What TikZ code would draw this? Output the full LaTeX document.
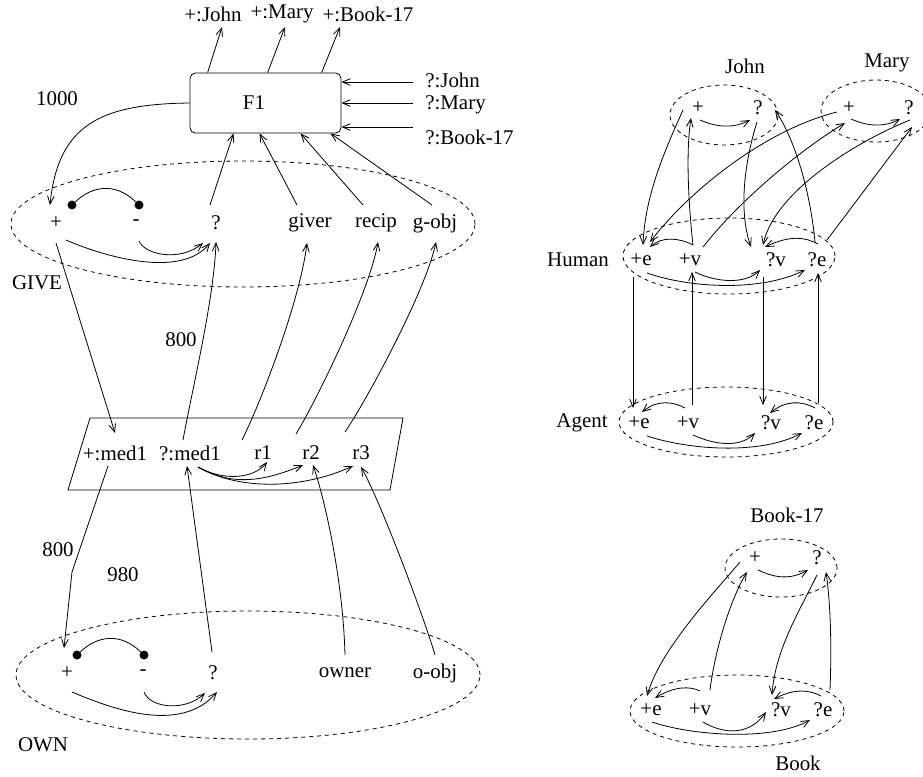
\documentclass[tikz,border=0pt]{standalone}
\usepackage{fontspec}
\setmainfont{Liberation Serif}
\usetikzlibrary{arrows.meta,shapes.geometric,calc}
\begin{document}
\begin{tikzpicture}[x=0.75pt,y=-0.75pt,
  every node/.style={font=\fontsize{15.7}{18}\selectfont, inner sep=0pt},
  arr/.style={-{Straight Barb[length=6pt,width=5pt]}, line width=0.6pt},
  ln/.style={line width=0.6pt},
  dashell/.style={ellipse, draw, dash pattern=on 3pt off 3pt, line width=0.6pt, inner sep=0pt},
  dot/.style={circle, fill, minimum size=6.75pt, inner sep=0pt},
  boxf/.style={draw, rounded corners=4pt, line width=0.6pt, inner sep=0pt}
]
\useasboundingbox (0,0) rectangle (923,776);

% ---------- F1 and its inputs/outputs ----------
\node[boxf, minimum width=113.25pt, minimum height=45pt] (F1box) at (265.5,103) {};
\node (F1) at (254,103) {F1};
\node (pJ) at (213,14) {+:John};
\node (pM) at (282,14) {+:Mary};
\node (pB) at (368,14) {+:Book-17};
\node[anchor=west] (qJ) at (425,80) {?:John};
\node[anchor=west] (qM) at (425,105) {?:Mary};
\node[anchor=west] (qB) at (425,137) {?:Book-17};
\node (n1000) at (57,99) {1000};

\draw[arr] ($(F1box.north west)+(18,0)$) -- ($(pJ)+(9,13)$);
\draw[arr] ($(F1box.north west)+(78,0)$) -- ($(pM)+(3,13)$);
\draw[arr] ($(F1box.north west)+(132,0)$) -- ($(pB)+(-28,13)$);
\draw[arr] ($(qJ.west)+(-12,2)$) -- ($(F1box.east)+(0,-21)$);
\draw[arr] ($(qM.west)+(-12,-2)$) -- (F1box.east);
\draw[arr] ($(qB.west)+(-12,-10)$) -- ($(F1box.east)+(0,24)$);

% ---------- GIVE ----------
\node[dashell, minimum width=348pt, minimum height=94.5pt] (GIVE) at (243,224) {};
\node (gp) at (56,223) {+};
\node (gm) at (136,223) {-};
\node (gq) at (216,223) {?};
\node (giver) at (310,223) {giver};
\node (recip) at (376,223) {recip};
\node (gobj) at (435,223) {g-obj};
\node (givel) at (37,283) {GIVE};
\node[dot] (gd1) at (72,205) {};
\node[dot] (gd2) at (139,205) {};
\draw[ln] (gd1) .. controls (92,186) and (115,182) .. (gd2);
\draw[arr] ($(gp)+(10,17)$) .. controls (100,255) and (180,280) .. ($(gq)+(-6,20)$);
\draw[arr] ($(gm)+(3,18)$) .. controls (145,255) and (180,262) .. ($(gq)+(-13,20)$);

\draw[arr] (F1box.west) .. controls (100,104) and (58,125) .. ($(gp)+(-6,-18)$);
\draw[arr] ($(gq)+(-6,-18)$) -- ($(F1box.south)+(-32,0)$);
\draw[arr] ($(giver)+(-13,-18)$) -- ($(F1box.south)+(-6,0)$);
\draw[arr] ($(recip)+(-13,-18)$) -- ($(F1box.south)+(35,0)$);
\draw[arr] ($(gobj)+(-3,-18)$) -- ($(F1box.south)+(65,0)$);

% ---------- mediator ----------
\draw[ln] (90,418) -- (403,418) -- (390,490) -- (68,490) -- cycle;
\node (pm) at (115,453) {+:med1};
\node (qm) at (190,453) {?:med1};
\node (r1) at (263,453) {r1};
\node (r2) at (311,453) {r2};
\node (r3) at (361,453) {r3};
\node (n800a) at (181,340) {800};

\draw[arr] ($(gp)+(0,20)$) -- ($(pm)+(0,-20)$);
\draw[arr] ($(qm)+(-7,-13)$) .. controls (192,390) and (214,300) .. ($(gq)+(0,19)$);
\draw[arr] ($(r1)+(-21,-13)$) .. controls (262,400) and (300,300) .. ($(giver)+(-3,20)$);
\draw[arr] ($(r2)+(-15,-19)$) .. controls (318,398) and (370,290) .. ($(recip)+(2,19)$);
\draw[arr] ($(r3)+(-16,-21)$) .. controls (368,398) and (426,290) .. ($(gobj)+(1,19)$);

\draw[arr] ($(qm)+(8,14)$) .. controls (225,482) and (255,478) .. ($(r1)+(4,9)$);
\draw[arr] ($(qm)+(8,14)$) .. controls (232,486) and (262,482) .. ($(r2)+(-8,12)$);
\draw[arr] ($(qm)+(8,14)$) .. controls (238,490) and (300,490) .. ($(r3)+(-8,13)$);

% ---------- OWN ----------
\node[dashell, minimum width=348pt, minimum height=96pt] (OWN) at (248,675) {};
\node (op) at (67,673) {+};
\node (om) at (143,673) {-};
\node (oq) at (213,673) {?};
\node (owner) at (345,673) {owner};
\node (oobj) at (435,673) {o-obj};
\node (ownl) at (43,745) {OWN};
\node[dot] (od1) at (77,655) {};
\node[dot] (od2) at (144,655) {};
\draw[ln] (od1) .. controls (97,636) and (120,632) .. (od2);
\draw[arr] ($(op)+(5,19)$) .. controls (110,708) and (180,735) .. ($(oq)+(4,19)$);
\draw[arr] ($(om)+(1,19)$) .. controls (150,708) and (185,712) .. ($(oq)+(-8,20)$);
\node (n800b) at (58,550) {800};
\node (n980) at (123,575) {980};

\draw[arr] ($(oq)+(-1,-21)$) -- ($(qm)+(-3,13)$);
\draw[arr] ($(owner)+(0,-18)$) .. controls (343,580) and (325,500) .. ($(r2)+(2,12)$);
\draw[arr] ($(oobj)+(0,-18)$) .. controls (425,620) and (380,500) .. ($(r3)+(0,14)$);
\draw[arr] ($(pm)+(-7,13)$) -- (72,572) -- ($(op)+(-3,-25)$);

% ---------- John / Mary ----------
\node[dashell, minimum width=81pt, minimum height=45pt] (John) at (724,115) {};
\node (johnl) at (745,66) {John};
\node (jp) at (698,108) {+};
\node (jq) at (758,108) {?};
\draw[arr] ($(jp)+(2,12)$) .. controls (718,128) and (735,128) .. ($(jq)+(-8,12)$);

\node[dashell, minimum width=82.5pt, minimum height=46.5pt] (Mary) at (876,111) {};
\node (maryl) at (887,63) {Mary};
\node (mp) at (849,108) {+};
\node (mq) at (909,108) {?};
\draw[arr] ($(mp)+(2,11)$) .. controls (869,127) and (885,127) .. ($(mq)+(-9,11)$);

% ---------- Human ----------
\node[dashell, minimum width=159pt, minimum height=57pt] (Human) at (729,256) {};
\node (humanl) at (578,260) {Human};
\node (he) at (641,260) {+e};
\node (hv) at (690,260) {+v};
\node (hq) at (776,260) {?v};
\node (hqe) at (817,260) {?e};
\draw[arr] ($(hv)+(3,-15)$) .. controls (680,238) and (662,236) .. ($(he)+(9,-13)$);
\draw[arr] ($(hqe)+(1,-16)$) .. controls (805,237) and (790,235) .. ($(hq)+(-11,-13)$);
\draw[arr] ($(he)+(6,13)$) .. controls (690,288) and (760,292) .. ($(hqe)+(-12,10)$);
\draw[arr] ($(hv)+(5,12)$) .. controls (715,282) and (745,285) .. ($(hq)+(-16,10)$);

% ---------- Agent ----------
\node[dashell, minimum width=160.5pt, minimum height=52.5pt] (Agent) at (726,422) {};
\node (agentl) at (582,423) {Agent};
\node (ae) at (639,423) {+e};
\node (av) at (688,423) {+v};
\node (aqv) at (771,423) {?v};
\node (aqe) at (814,423) {?e};
\draw[arr] ($(av)+(-3,-15)$) .. controls (672,401) and (657,400) .. ($(ae)+(3,-11)$);
\draw[arr] ($(aqe)+(1,-15)$) .. controls (800,400) and (785,401) .. ($(aqv)+(-1,-10)$);
\draw[arr] ($(ae)+(8,13)$) .. controls (690,450) and (760,455) .. ($(aqe)+(-12,10)$);
\draw[arr] ($(av)+(5,12)$) .. controls (715,445) and (740,448) .. ($(aqv)+(-16,10)$);

\draw[arr] ($(he)+(-8,17)$) -- ($(ae)+(-6,-15)$);
\draw[arr] ($(av)+(4,-18)$) -- ($(hv)+(2,12)$);
\draw[arr] ($(hq)+(-13,17)$) -- ($(aqv)+(-8,-18)$);
\draw[arr] ($(aqe)+(4,-20)$) -- ($(hqe)+(1,13)$);

% John/Mary <-> Human
\draw[arr] ($(jp)+(-15,2)$) .. controls (665,150) and (645,195) .. ($(he)+(2,-15)$);
\draw[arr] ($(hv)+(3,-15)$) .. controls (688,200) and (686,150) .. ($(jp)+(-7,10)$);
\draw[arr] ($(jq)+(-1,14)$) .. controls (745,160) and (738,210) .. ($(hq)+(-25,-13)$);
\draw[arr] ($(hqe)+(-2,-18)$) .. controls (810,190) and (795,140) .. ($(jq)+(17,2)$);
\draw[arr] ($(mp)+(-12,4)$) .. controls (765,130) and (690,190) .. ($(he)+(9,-18)$);
\draw[arr] ($(hv)+(13,-13)$) .. controls (740,200) and (800,150) .. ($(mp)+(-4,15)$);
\draw[arr] ($(mq)+(1,12)$) .. controls (860,140) and (775,190) .. ($(hq)+(-13,-15)$);
\draw[arr] ($(hqe)+(10,-20)$) -- ($(mq)+(3,19)$);

% ---------- Book-17 / Book ----------
\node[dashell, minimum width=84pt, minimum height=43.5pt] (Book17) at (781,568) {};
\node (book17l) at (787,515) {Book-17};
\node (b17p) at (755,558) {+};
\node (b17q) at (817,558) {?};
\draw[arr] ($(b17p)+(3,12)$) .. controls (775,578) and (790,580) .. ($(b17q)+(-9,12)$);

\node[dashell, minimum width=160.5pt, minimum height=54pt] (Book) at (737,711) {};
\node (bookl) at (798,763) {Book};
\node (be) at (651,710) {+e};
\node (bv) at (700,710) {+v};
\node (bqv) at (781,710) {?v};
\node (bqe) at (823,710) {?e};
\draw[arr] ($(bv)+(0,-19)$) .. controls (690,686) and (675,686) .. ($(be)+(4,-12)$);
\draw[arr] ($(bqe)+(-2,-14)$) .. controls (810,690) and (795,688) .. ($(bqv)+(-7,-11)$);
\draw[arr] ($(be)+(1,12)$) .. controls (690,735) and (770,742) .. ($(bqe)+(-13,10)$);
\draw[arr] ($(bv)+(3,12)$) .. controls (725,735) and (750,735) .. ($(bqv)+(-15,2)$);

\draw[arr] ($(b17p)+(-15,4)$) .. controls (712,595) and (660,650) .. ($(be)+(-4,-14)$);
\draw[arr] ($(bv)+(10,-20)$) .. controls (715,650) and (730,600) .. ($(b17p)+(-8,14)$);
\draw[arr] ($(b17q)+(0,17)$) .. controls (800,610) and (775,650) .. ($(bqv)+(-9,-15)$);
\draw[arr] ($(bqe)+(7,-20)$) .. controls (832,640) and (830,600) .. ($(b17q)+(9,14)$);
\end{tikzpicture}
\end{document}
